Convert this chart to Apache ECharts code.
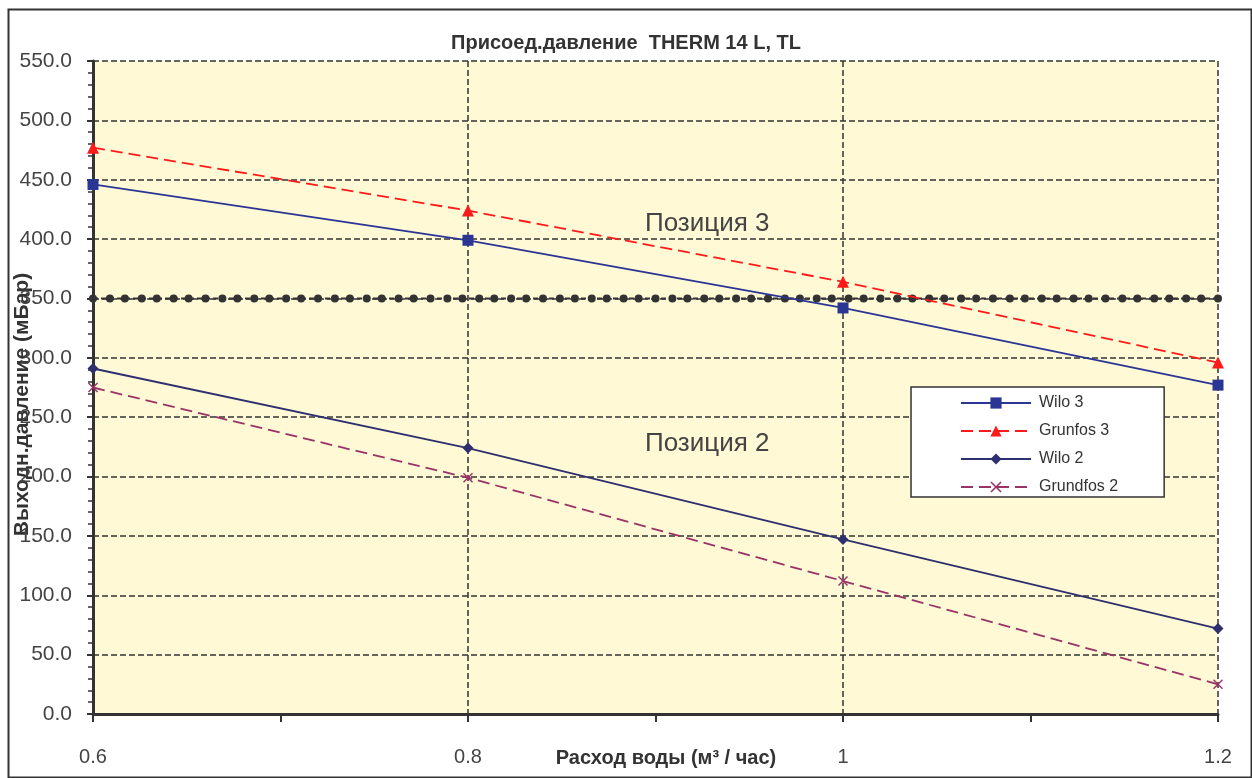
<!DOCTYPE html>
<html>
<head>
<meta charset="utf-8">
<script src="https://cdn.jsdelivr.net/npm/echarts@6/dist/echarts.min.js"></script>
<style>
html,body{margin:0;padding:0;background:#fff;}
#chart{width:1252px;height:778px;}
</style>
</head>
<body>
<div id="chart"></div>
<script>
// ---- data ----
const xFlow = [0.6, 0.8, 1.0, 1.2];
const wilo3 = [446, 399, 342, 277];
const grunfos3 = [477, 424, 364, 296];
const wilo2 = [291, 224, 147, 72];
const grundfos2 = [275, 199, 112, 25];
const limitLevel = 350;
const limitX = [0.600,0.609,0.617,0.626,0.634,0.643,0.651,0.660,0.669,0.677,0.686,0.694,0.703,0.711,0.720,0.729,0.737,0.746,0.754,0.763,0.771,0.780,0.789,0.797,0.806,0.814,0.823,0.831,0.840,0.849,0.857,0.866,0.874,0.883,0.891,0.900,0.909,0.917,0.926,0.934,0.943,0.951,0.960,0.969,0.977,0.986,0.994,1.003,1.011,1.020,1.029,1.037,1.046,1.054,1.063,1.071,1.080,1.089,1.097,1.106,1.114,1.123,1.131,1.140,1.149,1.157,1.166,1.174,1.183,1.191,1.200];
const seriesNames = ['Wilo 3', 'Grunfos 3', 'Wilo 2', 'Grundfos 2'];
const titleText = 'Присоед.давление  THERM 14 L, TL';
const xName = 'Расход воды (м³ / час)';
const yName = 'Выходн.давление (мБар)';
const zoneLabels = ['Позиция 3', 'Позиция 2'];

const FONT = '"Liberation Sans", Arial, sans-serif';
const pair = (xs, ys) => xs.map((x, i) => [x, ys[i]]);
const xSym = 'path://M0,1 L1,0 L5,4 L9,0 L10,1 L6,5 L10,9 L9,10 L5,6 L1,10 L0,9 L4,5 Z';

const chart = echarts.init(document.getElementById('chart'), null, {renderer: 'canvas'});
chart.setOption({
  animation: false,
  backgroundColor: '#fff',
  textStyle: {fontFamily: FONT},
  title: {
    text: titleText, left: 'center', top: 33, padding: 0,
    textStyle: {fontFamily: FONT, fontSize: 20, fontWeight: 'bold', color: '#333'}
  },
  grid: {left: 93, right: 34, top: 61, bottom: 64, show: true, backgroundColor: '#FFF9D6', borderWidth: 0,
    containLabel: false, outerBoundsMode: 'none'},
  legend: {
    data: seriesNames,
    orient: 'vertical', left: 911, top: 387,
    padding: [8, 46, 2, 49],
    itemWidth: 70, itemHeight: 14, itemGap: 12,
    backgroundColor: '#fff', borderColor: '#333', borderWidth: 1.5,
    textStyle: {fontFamily: FONT, fontSize: 16, color: '#333', padding: [0, 0, 0, 3]}
  },
  xAxis: {
    type: 'value', min: 0.6, max: 1.2, interval: 0.2,
    name: xName, nameLocation: 'middle', nameGap: 34, nameMoveOverlap: false,
    nameTextStyle: {fontFamily: FONT, fontSize: 20, fontWeight: 'bold', color: '#333', padding: [0, 0, 0, 21]},
    axisLine: {show: true, lineStyle: {color: '#333', width: 3}},
    axisTick: {show: true, length: 8, lineStyle: {color: '#333', width: 2}},
    minorTick: {show: true, splitNumber: 2, length: 8, lineStyle: {color: '#333', width: 2}},
    axisLabel: {margin: 33, fontSize: 20, color: '#444', fontFamily: FONT,
      formatter: v => String(Math.round(v * 10) / 10)},
    splitLine: {show: true, lineStyle: {color: '#333', type: [6, 3], width: 1.5}}
  },
  yAxis: {
    type: 'value', min: 0, max: 550, interval: 50,
    name: yName, nameLocation: 'middle', nameGap: 60, nameRotate: 90, nameMoveOverlap: false,
    nameTextStyle: {fontFamily: FONT, fontSize: 21, fontWeight: 'bold', color: '#333', padding: [0, 34, 0, 0]},
    axisLine: {show: true, lineStyle: {color: '#333', width: 3}},
    axisTick: {show: true, length: 6, lineStyle: {color: '#333', width: 2}},
    minorTick: {show: true, splitNumber: 5, length: 5, lineStyle: {color: '#333', width: 1.5}},
    axisLabel: {margin: 21, fontSize: 21, color: '#444', fontFamily: FONT, formatter: v => v.toFixed(1)},
    splitLine: {show: true, lineStyle: {color: '#333', type: [6, 3], width: 1.5}}
  },
  graphic: [
    {type: 'rect', left: 6, top: 7, shape: {width: 1243, height: 768}, style: {fill: 'none', stroke: '#333', lineWidth: 2}, silent: true},
    {type: 'text', left: 645, top: 211, style: {text: zoneLabels[0], font: '26px ' + FONT, fill: '#444'}, z: 10},
    {type: 'text', left: 645, top: 431, style: {text: zoneLabels[1], font: '26px ' + FONT, fill: '#444'}, z: 10}
  ],
  series: [
    {name: 'limit', type: 'line', data: limitX.map(x => [x, limitLevel]), symbol: 'circle', symbolSize: 8,
      itemStyle: {color: '#333'}, lineStyle: {color: '#333', width: 2, type: [5, 3]}, z: 2, silent: true},
    {name: seriesNames[0], type: 'line', data: pair(xFlow, wilo3), symbol: 'rect', symbolSize: 11,
      itemStyle: {color: '#2B3594'}, lineStyle: {color: '#2B3594', width: 1.8}, z: 5},
    {name: seriesNames[1], type: 'line', data: pair(xFlow, grunfos3), symbol: 'triangle', symbolSize: 12,
      itemStyle: {color: '#FF1A1A'}, lineStyle: {color: '#FF1A1A', width: 1.8, type: [12, 6]}, z: 5},
    {name: seriesNames[2], type: 'line', data: pair(xFlow, wilo2), symbol: 'diamond', symbolSize: 11,
      itemStyle: {color: '#2E2F6E'}, lineStyle: {color: '#2E2F6E', width: 1.8}, z: 5},
    {name: seriesNames[3], type: 'line', data: pair(xFlow, grundfos2), symbol: xSym, symbolSize: 10,
      itemStyle: {color: '#993366'}, lineStyle: {color: '#993366', width: 1.8, type: [12, 6]}, z: 5}
  ]
});
</script>
</body>
</html>
